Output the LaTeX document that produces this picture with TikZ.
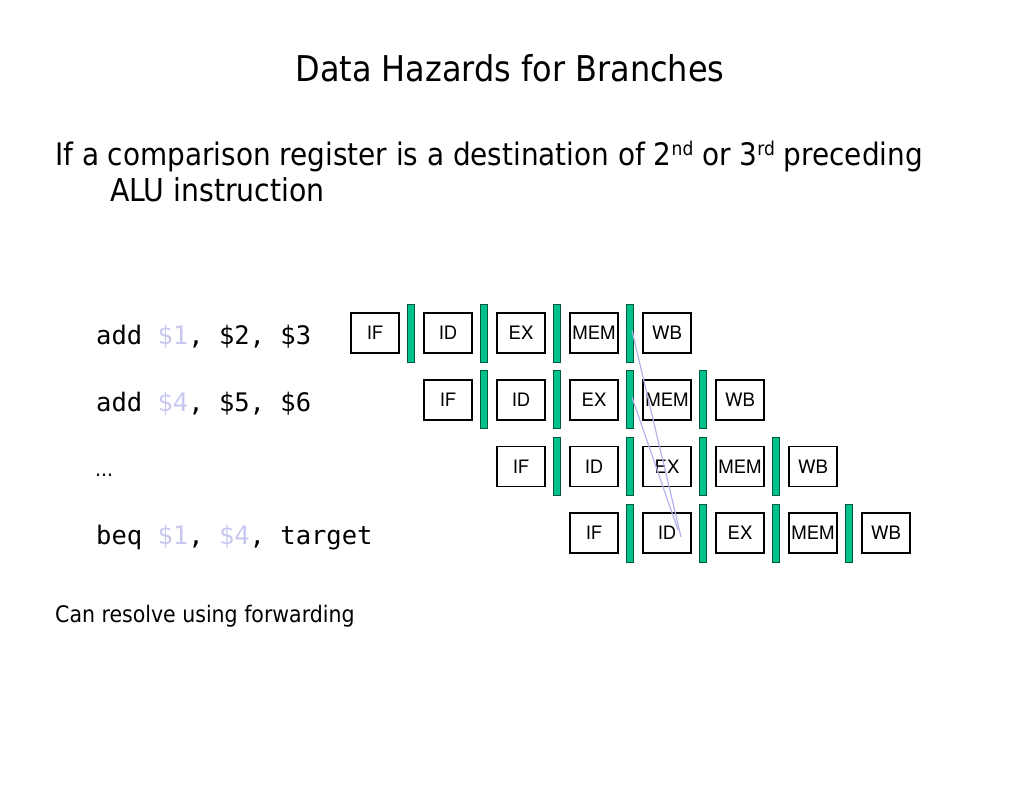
\documentclass[tikz,border=0pt]{standalone}
\usepackage{fontspec}
\setmainfont{DejaVu Sans Condensed}
\newfontfamily\codefont{DejaVu Sans Mono}
\newfontfamily\stagefont{TeX Gyre Heros}
\usetikzlibrary{calc}
\definecolor{barfill}{RGB}{0,192,140}
\definecolor{bardraw}{RGB}{0,90,60}
\definecolor{regcol}{RGB}{200,200,240}
\definecolor{fwdcol}{RGB}{180,180,235}
\tikzset{
  stagebox/.style={draw=black,line width=1.6pt,minimum width=48pt,minimum height=40pt,inner sep=0pt,
    font=\stagefont\fontsize{18.5}{18.5}\selectfont},
  latchbar/.style={draw=bardraw,line width=0.6pt,fill=barfill,minimum width=7.5pt,minimum height=58pt,inner sep=0pt},
  codetext/.style={anchor=base west,inner sep=0pt,font=\codefont\fontsize{25.5}{25.5}\selectfont},
  fwdline/.style={draw=fwdcol,line width=1.2pt},
}
\newcommand{\reg}[1]{\textcolor{regcol}{#1}}
\begin{document}
\begin{tikzpicture}[x=1pt,y=-1pt]
\useasboundingbox[fill=white] (0,0) rectangle (1024,791);
% title
\node[anchor=base,inner sep=0pt,font=\fontsize{35.5}{35.5}\selectfont] (title) at (510,82) {Data Hazards for Branches};
% body text
\node[anchor=base west,inner sep=0pt,font=\fontsize{31}{31}\selectfont] (line1) at (55,166)
  {If a comparison register is a destination of 2{\fontsize{19}{19}\selectfont\raisebox{0.55em}{nd}} or 3{\fontsize{19}{19}\selectfont\raisebox{0.55em}{rd}} preceding};
\node[anchor=base west,inner sep=0pt,font=\fontsize{31.5}{31.5}\selectfont] (line2) at (110,202) {ALU instruction};
% code
\node[codetext] (c1) at (96,344) {add \reg{\$1}, \$2, \$3};
\node[codetext] (c2) at (96,411) {add \reg{\$4}, \$5, \$6};
\node[anchor=base west,inner sep=0pt,font=\fontsize{20}{20}\selectfont] (c3) at (95,476) {…};
\node[codetext] (c4) at (96,544) {beq \reg{\$1}, \reg{\$4}, target};
% bottom text
\node[anchor=base west,inner sep=0pt,font=\fontsize{22.8}{22.8}\selectfont] (note) at (55,622) {Can resolve using forwarding};
% pipeline
\foreach \r in {0,1,2,3}{
  \foreach \s/\lab in {0/IF,1/ID,2/EX,3/MEM,4/WB}{
    \node[stagebox] (s\r\s) at ({375+73*(\r+\s)},{333+66.7*\r}) {\lab};
  }
  \foreach \s in {0,1,2,3}{
    \node[latchbar] (b\r\s) at ({411+73*(\r+\s)},{333+66.7*\r}) {};
  }
}
% forwarding lines
\coordinate (f1s) at ($(b03.north)+(2,27)$);
\coordinate (f1e) at ($(s31.center)+(14,4)$);
\coordinate (f2s) at ($(b12.north)+(2,27)$);
\coordinate (f2e) at ($(s31.center)+(11,-3)$);
\draw[fwdline] (f1s) -- (f1e);
\draw[fwdline] (f2s) -- (f2e);
\end{tikzpicture}
\end{document}
